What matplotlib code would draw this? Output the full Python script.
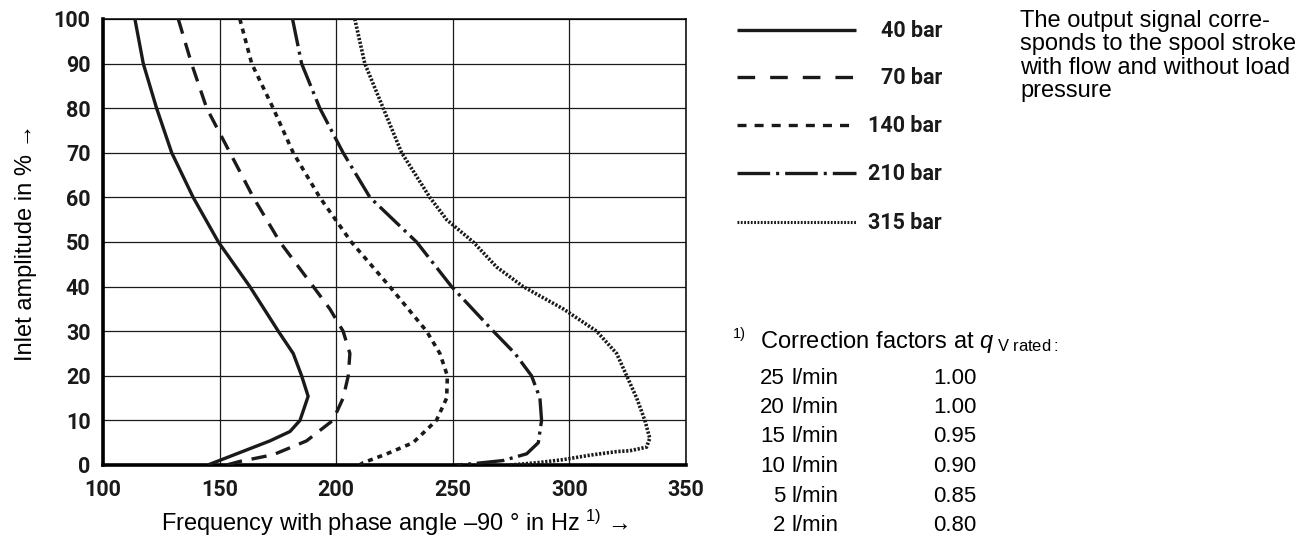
import matplotlib
matplotlib.use('Agg')
import matplotlib.pyplot as plt
from matplotlib.lines import Line2D

# curves: frequency (Hz) vs inlet amplitude (%)
freq_40 = [113.7, 117.3, 123, 129.5, 138.7, 149.5, 163, 175.2, 181.6, 185.2, 188, 184.5, 180.2, 171.6, 145]
amp_40 = [100, 90, 80, 70, 60, 50, 40, 30, 25, 20, 15.4, 10, 7.5, 5.4, 0]

freq_70 = [132.3, 138, 144.5, 154.5, 164.5, 175.9, 190.2, 197.3, 203, 205.9, 205.2, 203, 198.6, 187.3, 173, 158.7, 153]
amp_70 = [100, 90, 80, 70, 60, 50, 40, 35, 30, 25, 20, 15, 10, 5.4, 2.3, 0.8, 0]

freq_140 = [158.7, 163.8, 173, 181.6, 193, 206.5, 223, 238.8, 244.5, 247.7, 247.4, 243, 233, 221.7, 211.6, 210]
amp_140 = [100, 90, 80, 70, 60, 50, 40, 30, 25, 20, 15, 10, 5, 2.5, 0.5, 0]

freq_210 = [181.3, 185.2, 193, 203, 214.5, 234.5, 249.5, 267.4, 276.7, 283.8, 287.4, 288.1, 286.7, 281.7, 271.6, 258.8, 251.7]
amp_210 = [100, 90, 80, 70, 60, 50, 40, 30, 25, 20, 15, 10, 5, 2.5, 1, 0.3, 0]

freq_315 = [208, 212.3, 220.2, 228.1, 240.2, 247.4, 258.8, 268.8, 280.2, 297.4, 311.7, 320.3, 324.6, 328.9,
            332.4, 334.5, 333.1, 326, 320.3, 308.8, 297.4, 286, 274.5]
amp_315 = [100, 90, 80, 70, 60, 55, 50, 44.4, 40, 35, 30, 25, 20, 15, 10, 6, 4, 3.2, 3.0, 2.2, 1.2, 0.5, 0]

pressures = ['40 bar', '70 bar', '140 bar', '210 bar', '315 bar']
x_ticks = [100, 150, 200, 250, 300, 350]
y_ticks = [0, 10, 20, 30, 40, 50, 60, 70, 80, 90, 100]

note_lines = ['The output signal corre-', 'sponds to the spool stroke',
              'with flow and without load', 'pressure']
flow_rates = ['25', '20', '15', '10', '5', '2']
factors = ['1.00', '1.00', '0.95', '0.90', '0.85', '0.80']

plt.rcParams['font.family'] = ['Liberation Sans', 'DejaVu Sans']
plt.rcParams['mathtext.fontset'] = 'custom'
plt.rcParams['mathtext.rm'] = 'Liberation Sans'
plt.rcParams['mathtext.it'] = 'Liberation Sans:italic'
plt.rcParams['lines.scale_dashes'] = False

ink = '#1a1a1a'
curve_styles = [
    dict(linestyle='-', lw=2.4),
    dict(dashes=(11, 7), lw=2.4),
    dict(dashes=(3.6, 3.6), lw=2.6),
    dict(dashes=(20, 4, 2.2, 4), lw=2.4),
    dict(dashes=(1.6, 1.2), lw=2.6),
]
legend_styles = [
    dict(linestyle='-', lw=2.4),
    dict(dashes=(12.7, 10.8), lw=2.4),
    dict(dashes=(6.5, 5.8), lw=2.4),
    dict(dashes=(23.5, 4.3, 2.2, 4.3), lw=2.4),
    dict(dashes=(1.3, 1.1), lw=2.2),
]

fig = plt.figure(figsize=(13.13, 5.41), dpi=100)
ax = fig.add_axes([0.0784, 0.1405, 0.4440, 0.8244])

series = [(freq_40, amp_40), (freq_70, amp_70), (freq_140, amp_140), (freq_210, amp_210), (freq_315, amp_315)]
for (fx, fy), st in zip(series, curve_styles):
    ax.plot(fx, fy, color=ink, solid_capstyle='butt', dash_capstyle='butt',
            solid_joinstyle='round', zorder=3, **st)

ax.set_xlim(100, 350)
ax.set_ylim(0, 100)
ax.set_xticks(x_ticks)
ax.set_yticks(y_ticks)
ax.grid(True, color=ink, lw=0.9)
ax.set_axisbelow(True)
ax.tick_params(length=0)
ax.tick_params(axis='x', pad=10)
ax.tick_params(axis='y', pad=9)
for lab in ax.get_xticklabels() + ax.get_yticklabels():
    lab.set_fontfamily('Roboto')
    lab.set_fontweight('bold')
    lab.set_fontsize(15.5)
    lab.set_color(ink)
for side in ['left', 'bottom']:
    ax.spines[side].set_linewidth(2.6)
for side in ['top', 'right']:
    ax.spines[side].set_linewidth(1.1)

ax.set_xlabel('Frequency with phase angle \u201390 \u00b0 in Hz $^{1)}$ \u2192', fontsize=17, labelpad=5)
ax.set_ylabel('Inlet amplitude in % \u2192', fontsize=17, labelpad=12)

# legend drawn as a separate key on the right
W, H = 1313, 541
row_y = [30, 77, 125, 173, 222]
for name, st, y in zip(pressures, legend_styles, row_y):
    fig.add_artist(Line2D([737 / W, 856 / W], [1 - y / H, 1 - y / H], transform=fig.transFigure,
                          color=ink, dash_capstyle='butt', solid_capstyle='butt', **st))
    fig.text(942 / W, 1 - (y + 1) / H, name, ha='right', va='center', fontsize=15.5,
             fontfamily='Roboto', fontweight='bold', color=ink)

for i, line in enumerate(note_lines):
    fig.text(1020 / W, 1 - (21 + i * 23.3) / H, line, ha='left', va='center', fontsize=17)

fig.text(733 / W, 1 - 334 / H, '1)', ha='left', va='center', fontsize=10.5)
fig.text(760 / W, 1 - 342 / H, r'Correction factors at $q_{\ \mathrm{V\ rated:}}$', ha='left',
         va='center', fontsize=17)
for i, (q, f) in enumerate(zip(flow_rates, factors)):
    y = 1 - (378 + i * 29.5) / H
    fig.text(785 / W, y, q, ha='right', va='center', fontsize=16)
    fig.text(791 / W, y, 'l/min', ha='left', va='center', fontsize=16)
    fig.text(933 / W, y, f, ha='left', va='center', fontsize=16)

fig.savefig('out.png', dpi=100)
